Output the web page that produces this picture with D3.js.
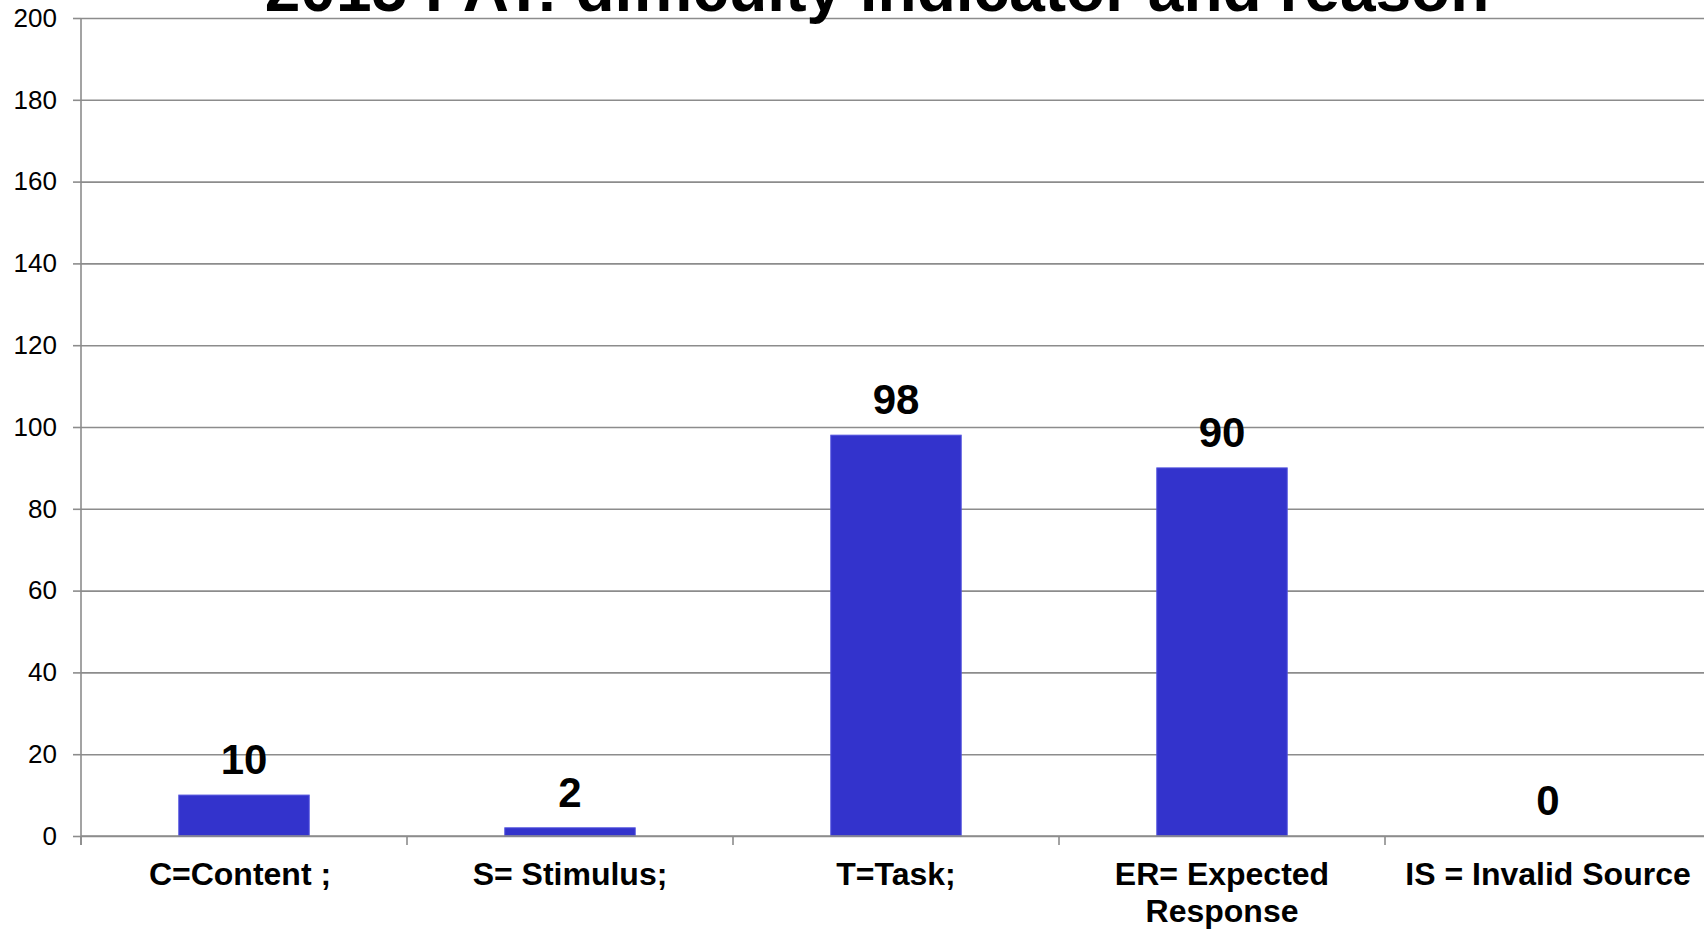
<!DOCTYPE html>
<html>
<head>
<meta charset="utf-8">
<script src="https://cdn.jsdelivr.net/npm/d3@7"></script>
<style>
  html, body { margin: 0; padding: 0; background: #fff; }
  svg { display: block; font-family: "Liberation Sans", Arial, sans-serif; }
</style>
</head>
<body>
<svg id="chart" width="1704" height="929"></svg>
<script>
const titleText = "2015 PAT: difficulty indicator and reason";
const categories = ["C=Content ;", "S= Stimulus;", "T=Task;", "ER= Expected Response", "IS = Invalid Source"];
const categoryLines = [["C=Content ;"], ["S= Stimulus;"], ["T=Task;"], ["ER= Expected", "Response"], ["IS = Invalid Source"]];
const values = [10, 2, 98, 90, 0];
const yTicks = [0, 20, 40, 60, 80, 100, 120, 140, 160, 180, 200];

(function () {
const svg = d3.select("#chart");
const mLeft = 81, mRight = 1711, mTop = 18, mBottom = 836;

const x = d3.scaleBand().domain(categories).range([mLeft, mRight])
  .paddingInner(0.6).paddingOuter(0.3);
const y = d3.scaleLinear().domain([0, 200]).range([mBottom, mTop]);

const gridColor = "#8c8c8c";

// Gridlines + y tick labels
const yAxis = d3.axisLeft(y).tickValues(yTicks).tickSizeInner(-(mRight - mLeft)).tickSizeOuter(0).tickPadding(24);
const gy = svg.append("g").attr("transform", `translate(${mLeft},0)`).call(yAxis);
gy.select(".domain").remove();
gy.selectAll(".tick line").attr("stroke", gridColor).attr("stroke-width", 1.6);
gy.selectAll(".tick text").attr("font-size", 26).attr("fill", "#000")
  .attr("font-family", "'Liberation Sans', Arial, sans-serif");

// Small left ticks
const yAxisTicks = d3.axisLeft(y).tickValues(yTicks).tickSize(8).tickFormat("");
const gy2 = svg.append("g").attr("transform", `translate(${mLeft},0)`).call(yAxisTicks);
gy2.select(".domain").attr("stroke", gridColor).attr("stroke-width", 1.6)
  .attr("d", `M0,${mBottom + 9}V${mTop}`);
gy2.selectAll(".tick line").attr("stroke", gridColor).attr("stroke-width", 1.6);

// Bars
svg.append("g").selectAll("rect").data(values).join("rect")
  .attr("x", (d, i) => x(categories[i]))
  .attr("width", x.bandwidth())
  .attr("y", d => y(d))
  .attr("height", d => y(0) - y(d))
  .attr("fill", "#3333cc")
  .attr("stroke", "#5050dd")
  .attr("stroke-width", 1);

// Bottom axis line and ticks at band boundaries
const boundaries = categories.map(c => x(c) - (x.step() - x.bandwidth()) / 2);
boundaries.push(mRight);
svg.append("line").attr("x1", mLeft).attr("x2", mRight).attr("y1", y(0)).attr("y2", y(0))
  .attr("stroke", gridColor).attr("stroke-width", 1.6);
svg.append("g").selectAll("line").data(boundaries).join("line")
  .attr("x1", d => d).attr("x2", d => d)
  .attr("y1", y(0)).attr("y2", y(0) + 9)
  .attr("stroke", gridColor).attr("stroke-width", 1.6);

// Category labels
const xl = svg.append("g");
categories.forEach((c, i) => {
  const cx = x(c) + x.bandwidth() / 2 - (i === 0 ? 4 : 0);
  const t = xl.append("text")
    .attr("x", cx)
    .attr("y", 885)
    .attr("text-anchor", "middle")
    .attr("font-size", 32).attr("font-weight", "bold").attr("fill", "#000");
  categoryLines[i].forEach((ln, j) => {
    t.append("tspan").attr("x", cx).attr("dy", j === 0 ? 0 : 37).text(ln);
  });
});

// Value labels
svg.append("g").selectAll("text").data(values).join("text")
  .attr("x", (d, i) => x(categories[i]) + x.bandwidth() / 2)
  .attr("y", d => y(d) - 21)
  .attr("text-anchor", "middle")
  .attr("font-size", 42).attr("font-weight", "bold").attr("fill", "#000")
  .text(d => d);

// Title (partially cut at top, as in the reference)
svg.append("text")
  .attr("x", 877).attr("y", 11)
  .attr("text-anchor", "middle")
  .attr("font-size", 64).attr("font-weight", "bold").attr("fill", "#000")
  .text(titleText);
})();
</script>
</body>
</html>
